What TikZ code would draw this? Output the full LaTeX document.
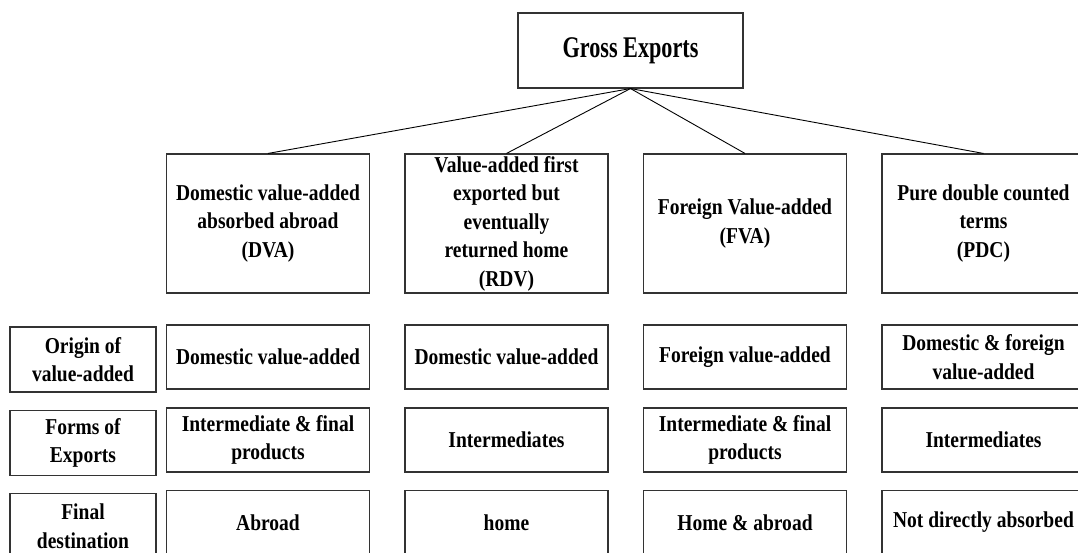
\documentclass[tikz,border=0pt]{standalone}
\usepackage{fontspec}
\setmainfont{Liberation Serif}[FakeStretch=0.86]
\newfontfamily\grossfont{Liberation Serif}[FakeStretch=0.74]
\tikzset{every box/.style={draw=black!80, line width=1.1pt, fill=white, align=center, inner sep=0pt, font=\bfseries\fontsize{22.7}{28.5}\selectfont}}
\tikzset{headbox/.style={every box, minimum width=225pt, minimum height=75pt, font=\grossfont\bfseries\fontsize{30}{36}\selectfont}}
\tikzset{termbox/.style={every box, minimum width=203pt, minimum height=139pt}}
\tikzset{cellbox/.style={every box, minimum width=203pt, minimum height=64pt}}
\tikzset{labelbox/.style={every box, minimum width=146pt, minimum height=65pt}}

\begin{document}
\begin{tikzpicture}[x=1pt, y=-1pt, node distance=238.5pt]
\useasboundingbox (0,0) rectangle (1078,553);
\clip (0,0) rectangle (1078,553);
\node [headbox] (gross) at (630.5,50.5) {Gross Exports};
\node [termbox] (dva) at (268,223.5) {Domestic value-added\\absorbed abroad\\(DVA)};
\node [termbox] (rdv) [right of=dva] {Value-added first\\exported but\\eventually\\returned home\\(RDV)};
\node [termbox] (fva) [right of=rdv] {Foreign Value-added\\(FVA)};
\node [termbox] (pdc) [right of=fva] {Pure double counted\\terms\\(PDC)};
%Rows
\node [labelbox] (origin) at (83,359.5) {Origin of\\value-added};
\node [labelbox] (forms) at (83,443) {Forms of\\Exports};
\node [labelbox] (dest) at (83,526) {Final\\destination};
\node [cellbox] (dvaorigin) at (268,357) {Domestic value-added};
\node [cellbox] (rdvorigin) [right of=dvaorigin] {Domestic value-added};
\node [cellbox] (fvaorigin) [right of=rdvorigin] {Foreign value-added};
\node [cellbox] (pdcorigin) [right of=fvaorigin] {Domestic \& foreign\\value-added};
\node [cellbox] (dvaforms) at (268,440) {Intermediate \& final\\products};
\node [cellbox] (rdvforms) [right of=dvaforms] {Intermediates};
\node [cellbox] (fvaforms) [right of=rdvforms] {Intermediate \& final\\products};
\node [cellbox] (pdcforms) [right of=fvaforms] {Intermediates};
\node [cellbox] (dvadest) at (268,522.5) {Abroad};
\node [cellbox] (rdvdest) [right of=dvadest] {home};
\node [cellbox] (fvadest) [right of=rdvdest] {Home \& abroad};
\node [cellbox] (pdcdest) [right of=fvadest] {Not directly absorbed};
%Edge
\draw [line width=0.9pt] (gross.south) -- (dva.north);
\draw [line width=0.9pt] (gross.south) -- (rdv.north);
\draw [line width=0.9pt] (gross.south) -- (fva.north);
\draw [line width=0.9pt] (gross.south) -- (pdc.north);
\end{tikzpicture}
\end{document}
